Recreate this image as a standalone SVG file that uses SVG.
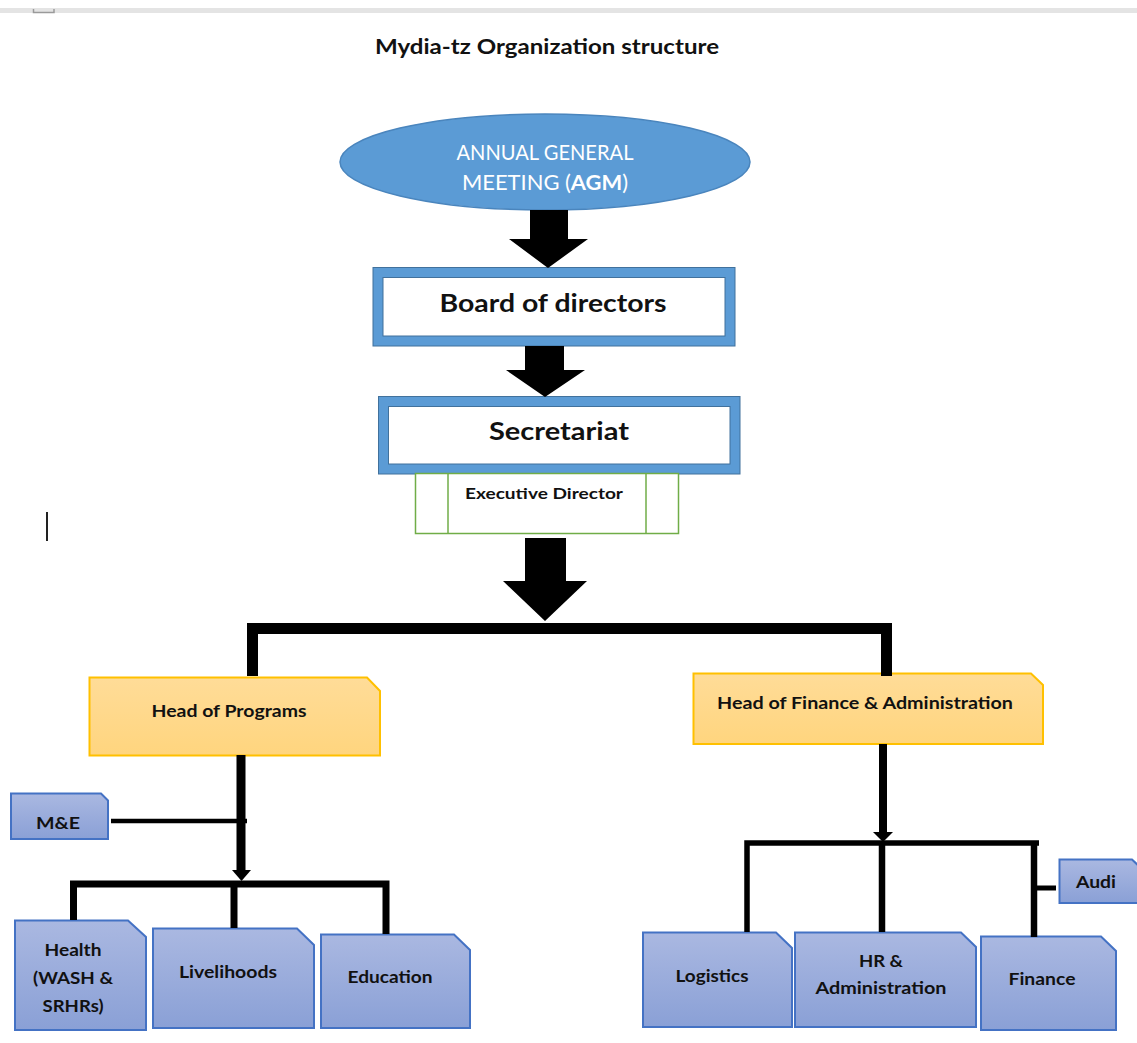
<svg xmlns="http://www.w3.org/2000/svg" width="1137" height="1043" viewBox="0 0 1137 1043">
<defs>
<linearGradient id="gBlue" x1="0" y1="0" x2="0" y2="1">
<stop offset="0" stop-color="#aab8e1"/>
<stop offset="1" stop-color="#8aa0d6"/>
</linearGradient>
<linearGradient id="gYel" x1="0" y1="0" x2="0" y2="1">
<stop offset="0" stop-color="#ffdc98"/>
<stop offset="1" stop-color="#ffd57e"/>
</linearGradient>
</defs>
<style>
text{font-family:Lato,"Open Sans","Liberation Sans",sans-serif;font-weight:700;fill:#111;text-anchor:middle}
.blue{fill:url(#gBlue);stroke:#4472c4;stroke-width:2}
.yel{fill:url(#gYel);stroke:#ffc000;stroke-width:2}
.frame{fill:#ffffff;stroke:#5b9bd5;stroke-width:10}
.frameEdge{fill:none;stroke:#41719c;stroke-width:1}
.blk{fill:#000}
.ln{stroke:#000;fill:none;stroke-linecap:butt}
.agm{font-size:21px;fill:#ffffff;font-weight:400}
</style>
<rect x="0" y="0" width="1137" height="1043" fill="#ffffff"/>
<rect x="0" y="8" width="1137" height="5" fill="#e4e4e4"/>
<path d="M33.5 9 V12.5 H54 V9" fill="none" stroke="#9a9a9a" stroke-width="1.5"/>
<line x1="47" y1="512" x2="47" y2="541" stroke="#222" stroke-width="2"/>

<text x="547" y="54" style="font-size:20px" textLength="344" lengthAdjust="spacingAndGlyphs">Mydia-tz Organization structure</text>

<g id="agm">
<ellipse cx="545" cy="162" rx="205" ry="48" fill="#5b9bd5" stroke="#4a85bd" stroke-width="1.5"/>
<text class="agm" x="545" y="160" textLength="177" lengthAdjust="spacingAndGlyphs">ANNUAL GENERAL</text>
<text class="agm" x="545" y="190" textLength="166" lengthAdjust="spacingAndGlyphs">MEETING (<tspan style="font-weight:700">AGM</tspan>)</text>
</g>

<g id="board">
<rect class="frame" x="378" y="272.5" width="352" height="68.5"/>
<rect class="frameEdge" x="373" y="267.5" width="362" height="78.5"/>
<rect class="frameEdge" x="383" y="277.5" width="342" height="58.5"/>
<text x="553" y="312" style="font-size:25px" textLength="227" lengthAdjust="spacingAndGlyphs">Board of directors</text>
</g>

<g id="secretariat">
<rect class="frame" x="383.5" y="401.5" width="351.5" height="67.5"/>
<rect class="frameEdge" x="378.5" y="396.5" width="361.5" height="77.5"/>
<rect class="frameEdge" x="388.5" y="406.5" width="341.5" height="57.5"/>
<text x="559" y="440" style="font-size:25px" textLength="140" lengthAdjust="spacingAndGlyphs">Secretariat</text>
</g>

<g id="executive-director">
<rect x="415.5" y="473.5" width="263" height="60" fill="#ffffff" stroke="#70ad47" stroke-width="1.5"/>
<line x1="448" y1="473.5" x2="448" y2="533.5" stroke="#70ad47" stroke-width="1.5"/>
<line x1="646" y1="473.5" x2="646" y2="533.5" stroke="#70ad47" stroke-width="1.5"/>
<text x="544" y="499" style="font-size:16px" textLength="158" lengthAdjust="spacingAndGlyphs">Executive Director</text>
</g>

<g id="head-programs">
<path class="yel" d="M89.5 677.5 H367 L380 691 V755.5 H89.5 Z"/>
<text x="229" y="717" style="font-size:17px" textLength="155" lengthAdjust="spacingAndGlyphs">Head of Programs</text>
</g>

<g id="head-finance">
<path class="yel" d="M693.5 673.5 H1031 L1043 685 V744 H693.5 Z"/>
<text x="865" y="709" style="font-size:17px" textLength="296" lengthAdjust="spacingAndGlyphs">Head of Finance &amp; Administration</text>
</g>

<g id="me">
<path class="blue" d="M11 793.5 H101 L108 800.5 V839 H11 Z"/>
<text x="58" y="829" style="font-size:17px" textLength="44" lengthAdjust="spacingAndGlyphs">M&amp;E</text>
</g>

<g id="health">
<path class="blue" d="M15 920.5 H128 L146 937 V1030 H15 Z"/>
<text x="73" y="956" style="font-size:17px" textLength="57" lengthAdjust="spacingAndGlyphs">Health</text>
<text x="73" y="984" style="font-size:17px" textLength="80" lengthAdjust="spacingAndGlyphs">(WASH &amp;</text>
<text x="73" y="1012" style="font-size:17px" textLength="61" lengthAdjust="spacingAndGlyphs">SRHRs)</text>
</g>

<g id="livelihoods">
<path class="blue" d="M153 928.5 H297 L314 945 V1028 H153 Z"/>
<text x="228" y="978" style="font-size:17px" textLength="98" lengthAdjust="spacingAndGlyphs">Livelihoods</text>
</g>

<g id="education">
<path class="blue" d="M321 934.5 H454 L470 950 V1028 H321 Z"/>
<text x="390" y="983" style="font-size:17px" textLength="85" lengthAdjust="spacingAndGlyphs">Education</text>
</g>

<g id="logistics">
<path class="blue" d="M643 932.5 H776 L792 948 V1027 H643 Z"/>
<text x="712" y="982" style="font-size:17px" textLength="73" lengthAdjust="spacingAndGlyphs">Logistics</text>
</g>

<g id="hr-admin">
<path class="blue" d="M795 932.5 H961 L976 947 V1027 H795 Z"/>
<text x="881" y="967" style="font-size:17px" textLength="44" lengthAdjust="spacingAndGlyphs">HR &amp;</text>
<text x="881" y="994" style="font-size:17px" textLength="131" lengthAdjust="spacingAndGlyphs">Administration</text>
</g>

<g id="finance">
<path class="blue" d="M981 936.5 H1101 L1116 951 V1030 H981 Z"/>
<text x="1042" y="985" style="font-size:17px" textLength="67" lengthAdjust="spacingAndGlyphs">Finance</text>
</g>

<g id="audi">
<path class="blue" d="M1059.5 859.5 H1132 L1142 869 V903 H1059.5 Z"/>
<text x="1096" y="888" style="font-size:17px" textLength="40" lengthAdjust="spacingAndGlyphs">Audi</text>
</g>

<g id="connectors">
<polygon class="blk" points="530,210 568,210 568,239 588,239 548,268 509,239 530,239"/>
<polygon class="blk" points="525,346 564,346 564,370 585,370 545,397 506,370 525,370"/>
<polygon class="blk" points="525,538 566,538 566,581 587,581 545,621 503,581 525,581"/>
<path class="ln" d="M252.5 676 V628.5 H886.5 V676" stroke-width="11"/>

<line class="ln" x1="241" y1="755" x2="241" y2="871" stroke-width="9"/>
<polygon class="blk" points="232,870 251,870 241.5,881"/>
<line class="ln" x1="111" y1="821" x2="247" y2="821" stroke-width="4.5"/>
<path class="ln" d="M73.5 920 V884 H386 V934" stroke-width="7"/>
<line class="ln" x1="234" y1="884" x2="234" y2="928" stroke-width="7"/>

<line class="ln" x1="883" y1="744" x2="883" y2="834" stroke-width="8"/>
<polygon class="blk" points="873,832 893,832 883,842"/>
<path class="ln" d="M747 932 V843 H1039" stroke-width="5.5"/>
<line class="ln" x1="882" y1="843" x2="882" y2="932" stroke-width="6.5"/>
<line class="ln" x1="1034" y1="843" x2="1034" y2="937" stroke-width="6.5"/>
<line class="ln" x1="1034" y1="888" x2="1056" y2="888" stroke-width="5"/>
</g>
</svg>
